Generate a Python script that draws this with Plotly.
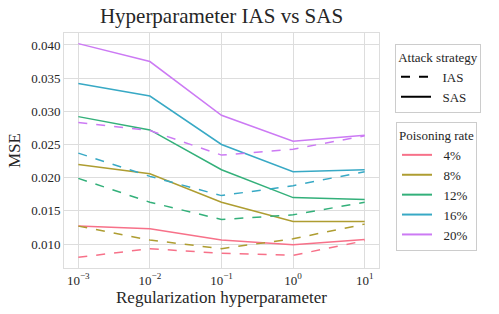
import plotly.graph_objects as go

x_vals = [0.001, 0.01, 0.1, 1, 10]
tick_text = ["10<sup>−3</sup>", "10<sup>−2</sup>", "10<sup>−1</sup>", "10<sup>0</sup>", "10<sup>1</sup>"]
rates = ["4%", "8%", "12%", "16%", "20%"]
colors = ["#f77189", "#ae9d31", "#33b07a", "#38a9c5", "#cc7af4"]

ias = {
    "4%":  [0.0080, 0.0093, 0.0086, 0.0083, 0.0105],
    "8%":  [0.0127, 0.0106, 0.0093, 0.0108, 0.0130],
    "12%": [0.0199, 0.0163, 0.0137, 0.0144, 0.0163],
    "16%": [0.0237, 0.0202, 0.0173, 0.0188, 0.0209],
    "20%": [0.0283, 0.0271, 0.0234, 0.0243, 0.0263],
}
sas = {
    "4%":  [0.0127, 0.0123, 0.0106, 0.0099, 0.0107],
    "8%":  [0.0220, 0.0206, 0.0163, 0.0134, 0.0134],
    "12%": [0.0292, 0.0272, 0.0212, 0.0170, 0.0167],
    "16%": [0.0342, 0.0323, 0.0250, 0.0209, 0.0212],
    "20%": [0.0402, 0.0375, 0.0294, 0.0255, 0.0264],
}

font = "Liberation Serif, serif"
txt = "#262626"
pad = "\u00a0\u00a0"
fig = go.Figure()

for r, c in zip(rates, colors):
    fig.add_trace(go.Scatter(x=x_vals, y=ias[r], mode="lines", line=dict(color=c, width=1.5, dash="dash"),
                             showlegend=False))
    fig.add_trace(go.Scatter(x=x_vals, y=sas[r], mode="lines", line=dict(color=c, width=1.5),
                             showlegend=False))

# legend 1: attack strategy
fig.add_trace(go.Scatter(x=[None], y=[None], mode="lines", name=pad + "IAS",
                         line=dict(color="black", width=2, dash="dash"), legend="legend"))
fig.add_trace(go.Scatter(x=[None], y=[None], mode="lines", name=pad + "SAS",
                         line=dict(color="black", width=2), legend="legend"))
# legend 2: poisoning rate
for r, c in zip(rates, colors):
    fig.add_trace(go.Scatter(x=[None], y=[None], mode="lines", name=pad + r,
                             line=dict(color=c, width=2), legend="legend2"))

grid = "#dddddd"
tf = dict(family=font, size=13, color=txt)
fig.update_layout(
    width=499, height=314,
    margin=dict(l=64, r=120, t=33, b=46, autoexpand=False),
    paper_bgcolor="white", plot_bgcolor="white",
    font=tf,
    title=dict(text="Hyperparameter IAS vs SAS", x=(64 + 379) / 2 / 499, xanchor="center",
               y=1 - 16 / 314, yanchor="middle", font=dict(family=font, size=21, color=txt)),
    xaxis=dict(type="log", range=[-3.2, 1.2], tickvals=x_vals, ticktext=tick_text,
               tickfont=tf, automargin=False,
               showgrid=True, gridcolor=grid, gridwidth=1, showline=True, linecolor=grid,
               mirror=True, ticks="", zeroline=False,
               title=dict(text="Regularization hyperparameter", font=dict(family=font, size=17, color=txt), standoff=2)),
    yaxis=dict(range=[0.00639, 0.0418], dtick=0.005, tick0=0.01, tickformat=".3f",
               tickfont=tf, automargin=False,
               showgrid=True, gridcolor=grid, gridwidth=1, showline=True, linecolor=grid,
               mirror=True, ticks="", zeroline=False,
               title=dict(text="MSE", font=dict(family=font, size=17, color=txt), standoff=6)),
    legend=dict(xref="container", yref="container", x=395 / 499, y=1 - 44 / 314,
                xanchor="left", yanchor="top",
                title=dict(text="Attack strategy", side="top center", font=tf),
                bordercolor="#cccccc", borderwidth=1, bgcolor="white",
                font=tf, tracegroupgap=0, itemwidth=30),
    legend2=dict(xref="container", yref="container", x=396 / 499, y=1 - 122 / 314,
                 xanchor="left", yanchor="top",
                 title=dict(text="Poisoning rate", side="top center", font=tf),
                 bordercolor="#cccccc", borderwidth=1, bgcolor="white",
                 font=tf, tracegroupgap=0, itemwidth=30),
)

fig.write_html("out.html", config={"displayModeBar": False},
               post_script="document.body.style.margin='0';document.body.style.padding='0';")
